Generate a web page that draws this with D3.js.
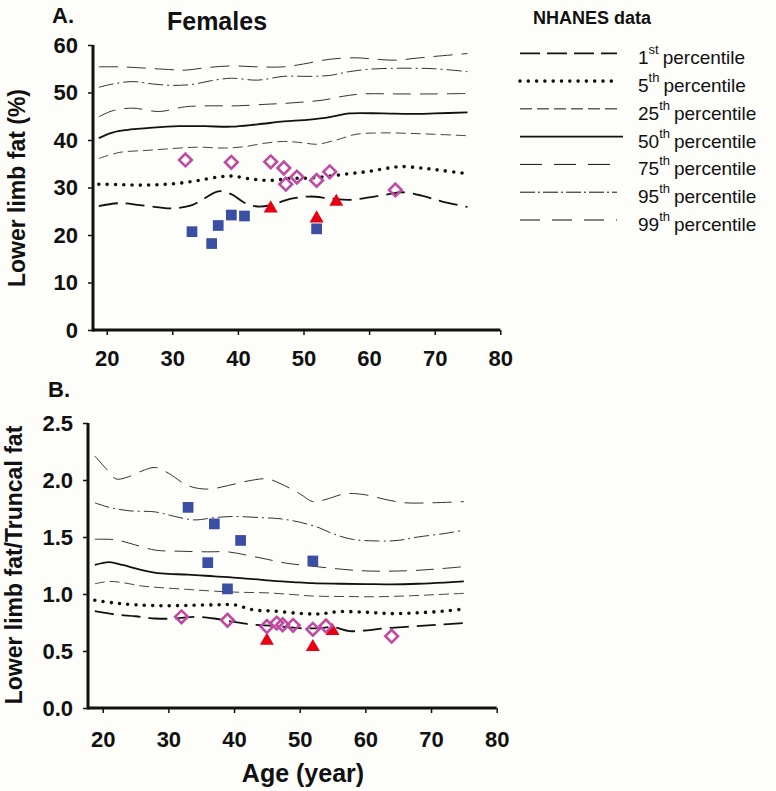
<!DOCTYPE html>
<html><head><meta charset="utf-8">
<script src="https://cdn.jsdelivr.net/npm/d3@7"></script>
<style>
body{margin:0;background:#fdfdf9}
svg{display:block}
text{font-family:"Liberation Sans",Arial,Helvetica,sans-serif;fill:#111}
</style>
</head><body>
<svg id="c" width="776" height="791"></svg>
<script>
// ---------- DATA ----------
const xTicks = [20,30,40,50,60,70,80];
const yTicksA = [0,10,20,30,40,50,60];
const yTicksB = [0.0,0.5,1.0,1.5,2.0,2.5];
const legendNames = ["1","5","25","50","75","95","99"];
const legendSup = ["st","th","th","th","th","th","th"];

// Panel A: lower limb fat (%) percentiles [age, value]
const A_p99 = [[18.8,55.4],[22,55.4],[25,55.2],[30,54.8],[32,54.7],[35,55.2],[39,55.6],[43,55.4],[47,55.4],[50,56.0],[54,57.0],[58,57.3],[61,57.0],[64,56.8],[67,57.2],[70,57.6],[75,58.2]];
const A_p95 = [[18.8,51.1],[21,51.8],[24,52.3],[27,51.8],[30,51.5],[33,51.7],[36,52.5],[39,53.0],[43,52.6],[47,53.4],[51,53.4],[54,53.6],[57,54.4],[60,54.9],[64,55.1],[67,55.1],[70,55.0],[75,54.4]];
const A_p75 = [[18.8,44.9],[21,46.2],[24,46.7],[28,46.0],[32,47.0],[36,47.2],[40,47.2],[44,47.5],[47,47.7],[50,48.0],[53,48.4],[56,49.2],[59,49.7],[64,49.7],[70,49.7],[75,49.8]];
const A_p50 = [[18.8,40.4],[21,41.6],[23,42.1],[27,42.6],[31,42.9],[35,42.9],[39,42.8],[43,43.3],[47,43.9],[50,44.2],[53,44.6],[55,45.1],[57,45.6],[62,45.6],[66,45.5],[70,45.6],[75,45.8]];
const A_p25 = [[18.8,36.1],[22,37.4],[26,37.8],[30,38.2],[34,38.5],[38,38.3],[41,38.6],[44,39.3],[47,39.7],[50,39.4],[52,39.1],[55,40.0],[58,41.2],[62,41.5],[66,41.4],[70,41.2],[75,40.9]];
const A_p5  = [[18.8,30.7],[22,30.6],[25,30.5],[28,30.6],[31,30.9],[34,31.5],[37,32.2],[39,32.4],[42,31.8],[45,31.5],[48,31.9],[51,32.0],[54,32.4],[57,32.9],[60,33.4],[63,34.1],[65,34.4],[68,34.1],[71,33.6],[75,32.9]];
const A_p1  = [[18.8,26.1],[22,26.7],[25,26.3],[28,25.8],[30,25.6],[33,26.3],[35,27.8],[37,29.2],[39,28.6],[41,26.8],[43,26.0],[45,26.3],[48,27.6],[51,28.1],[54,27.7],[57,27.4],[60,27.9],[63,28.6],[65,29.0],[68,28.3],[71,27.1],[75,25.9]];
const A_squares   = [[33,20.7],[36,18.2],[37,22.0],[39,24.2],[41,24.0],[52,21.3]];
const A_triangles = [[45,25.6],[52,23.5],[55,27.0]];
const A_diamonds  = [[32,35.8],[39,35.3],[45,35.4],[47,34.1],[47.3,30.7],[49,32.2],[52,31.5],[54,33.3],[64,29.5]];

// Panel B: lower limb fat / truncal fat percentiles
const B_p99 = [[18.8,2.21],[20.5,2.10],[22,2.01],[23.5,2.02],[26,2.08],[28,2.11],[30,2.06],[33,1.95],[36,1.92],[39,1.95],[42,1.99],[45,2.01],[47,1.97],[50,1.88],[52,1.81],[54,1.83],[57,1.88],[60,1.87],[63,1.83],[66,1.80],[70,1.80],[75,1.81]];
const B_p95 = [[18.8,1.80],[21,1.76],[24,1.73],[28,1.72],[31,1.68],[34,1.65],[37,1.67],[40,1.68],[44,1.67],[47,1.66],[50,1.63],[53,1.58],[55,1.53],[58,1.48],[62,1.465],[65,1.47],[68,1.50],[72,1.53],[75,1.56]];
const B_p75 = [[18.8,1.48],[22,1.475],[25,1.43],[28,1.385],[32,1.375],[36,1.37],[39,1.37],[42,1.34],[45,1.305],[48,1.27],[51,1.25],[55,1.225],[59,1.205],[63,1.20],[67,1.205],[71,1.22],[75,1.24]];
const B_p50 = [[18.8,1.255],[21,1.28],[23,1.255],[26,1.21],[29,1.18],[33,1.17],[37,1.155],[41,1.14],[45,1.12],[49,1.105],[52,1.095],[56,1.09],[60,1.087],[64,1.085],[68,1.09],[72,1.10],[75,1.11]];
const B_p25 = [[18.8,1.09],[21,1.11],[23,1.10],[26,1.07],[29,1.055],[33,1.04],[37,1.025],[41,1.015],[45,1.01],[49,0.995],[52,0.982],[57,0.978],[62,0.976],[67,0.985],[71,0.995],[75,1.006]];
const B_p5  = [[18.8,0.945],[22,0.92],[25,0.905],[29,0.897],[33,0.90],[37,0.905],[40,0.905],[43,0.86],[46,0.85],[50,0.83],[53,0.825],[56,0.845],[60,0.84],[64,0.828],[68,0.835],[72,0.85],[75,0.868]];
const B_p1  = [[18.8,0.85],[22,0.82],[25,0.805],[28,0.785],[31,0.785],[34,0.80],[37,0.785],[40,0.755],[43,0.73],[46,0.72],[50,0.70],[53,0.70],[55,0.71],[57.6,0.675],[60,0.68],[63,0.70],[67,0.715],[71,0.73],[75,0.745]];
const B_squares   = [[33,1.76],[36,1.275],[37,1.615],[39,1.045],[41,1.47],[52,1.29]];
const B_triangles = [[45,0.59],[52,0.535],[55,0.675]];
const B_diamonds  = [[32,0.80],[39,0.77],[45,0.715],[46.5,0.745],[47.4,0.73],[49,0.725],[52,0.69],[54,0.72],[64,0.63]];

// ---------- STYLES ----------
const lineStyles = [
  {w:1.8, dash:"19,8",  color:"#111", cap:"butt"},   // 1st
  {w:3.6, dash:"0,8.3", color:"#111", cap:"round"},  // 5th
  {w:1.0, dash:"10,5",  color:"#444", cap:"butt"},   // 25th
  {w:1.8, dash:null,    color:"#111", cap:"butt"},   // 50th
  {w:1.0, dash:"18,9",  color:"#333", cap:"butt"},   // 75th
  {w:1.0, dash:"15,4,2,4", color:"#333", cap:"butt"},// 95th
  {w:1.0, dash:"19,9",  color:"#333", cap:"butt"}    // 99th
];
const legendStyles = [
  {w:1.8, dash:"20,7"}, {w:3.6, dash:"0,8.3"}, {w:1.0, dash:"12,5"}, {w:1.8, dash:null},
  {w:1.0, dash:"22,12"}, {w:1.0, dash:"15,3,2,3"}, {w:1.0, dash:"20,12"}
];
const BLUE = "#3a4fa3", RED = "#e60012", MAG = "#c04aa2";

const svg = d3.select("#c");
svg.append("rect").attr("width",776).attr("height",791).attr("fill","#fdfdf9");

function panel(cfg){
  const x = d3.scaleLinear().domain([20,80]).range(cfg.xr);
  const y = d3.scaleLinear().domain(cfg.yd).range(cfg.yr);
  const g = svg.append("g");
  const x0 = cfg.axisX;
  const yAx = d3.axisLeft(y).tickValues(cfg.yticks).tickSize(5).tickPadding(10).tickFormat(cfg.yfmt);
  const ga = g.append("g").attr("transform",`translate(${x0},0)`).call(yAx);
  ga.select(".domain").remove();
  ga.selectAll(".tick line").attr("stroke","#111").attr("stroke-width",1.5);
  ga.selectAll(".tick text").attr("font-size",22).attr("font-weight","bold").attr("fill","#111");
  const xAx = d3.axisBottom(x).tickValues(xTicks).tickSize(5).tickPadding(cfg.xpad).tickFormat(d3.format("d"));
  const gx = g.append("g").attr("transform",`translate(0,${y(cfg.yd[0])})`).call(xAx);
  gx.select(".domain").remove();
  gx.selectAll(".tick line").attr("stroke","#111").attr("stroke-width",1.5);
  gx.selectAll(".tick text").attr("font-size",22).attr("font-weight","bold").attr("fill","#111");
  g.append("line").attr("x1",x0).attr("x2",x0).attr("y1",y(cfg.yd[0])+1.5).attr("y2",y(cfg.yd[1]))
    .attr("stroke","#111").attr("stroke-width",3);
  g.append("line").attr("x1",x0).attr("x2",x(80)).attr("y1",y(cfg.yd[0])).attr("y2",y(cfg.yd[0]))
    .attr("stroke","#111").attr("stroke-width",3);
  const line = d3.line().x(d=>x(d[0])).y(d=>y(d[1])).curve(d3.curveCatmullRom.alpha(0.5));
  cfg.series.forEach((s,i)=>{
    const st = lineStyles[i];
    g.append("path").attr("d",line(s)).attr("fill","none").attr("stroke",st.color)
      .attr("stroke-width",st.w).attr("stroke-linecap",st.cap)
      .attr("stroke-dasharray",st.dash);
  });
  g.selectAll(".sq").data(cfg.squares).join("path")
    .attr("d",d3.symbol(d3.symbolSquare,115)())
    .attr("transform",d=>`translate(${x(d[0])},${y(d[1])})`).attr("fill",BLUE);
  g.selectAll(".tr").data(cfg.triangles).join("path")
    .attr("d",d3.symbol(d3.symbolTriangle,85)())
    .attr("transform",d=>`translate(${x(d[0])},${y(d[1])})`).attr("fill",RED);
  g.selectAll(".di").data(cfg.diamonds).join("path")
    .attr("d",d3.symbol(d3.symbolSquare,80)())
    .attr("transform",d=>`translate(${x(d[0])},${y(d[1])}) rotate(45)`)
    .attr("fill","none").attr("stroke",MAG).attr("stroke-width",2.6);
  svg.append("text").attr("x",cfg.letter[0]).attr("y",cfg.letter[1]).attr("font-size",22)
    .attr("font-weight","bold").text(cfg.letterText);
  svg.append("text").attr("transform",`translate(${cfg.ytitle[0]},${cfg.ytitle[1]}) rotate(-90)`)
    .attr("text-anchor","middle").attr("font-size",23).attr("font-weight","bold").text(cfg.ytitleText);
  return {x,y};
}

panel({
  xr:[106.7,500.3], yd:[0,60], yr:[330,45], axisX:93, yticks:yTicksA, yfmt:d3.format("d"), xpad:15,
  series:[A_p1,A_p5,A_p25,A_p50,A_p75,A_p95,A_p99],
  squares:A_squares, triangles:A_triangles, diamonds:A_diamonds,
  letter:[52,23], letterText:"A.", ytitle:[25,188], ytitleText:"Lower limb fat (%)"
});
panel({
  xr:[102.7,496.7], yd:[0,2.5], yr:[708,423], axisX:88, yticks:yTicksB, yfmt:d3.format(".1f"), xpad:18,
  series:[B_p1,B_p5,B_p25,B_p50,B_p75,B_p95,B_p99],
  squares:B_squares, triangles:B_triangles, diamonds:B_diamonds,
  letter:[48,397], letterText:"B.", ytitle:[22,565], ytitleText:"Lower limb fat/Truncal fat"
});

svg.append("text").attr("x",217).attr("y",30).attr("text-anchor","middle")
  .attr("font-size",25).attr("font-weight","bold").text("Females");
svg.append("text").attr("x",303).attr("y",782).attr("text-anchor","middle")
  .attr("font-size",25).attr("font-weight","bold").text("Age (year)");

// legend
svg.append("text").attr("x",533).attr("y",24).attr("font-size",18).attr("font-weight","bold").text("NHANES data");
const ly = d3.scaleLinear().domain([0,6]).range([53.3,220]);
legendNames.forEach((n,i)=>{
  const yy = ly(i), st = legendStyles[i];
  svg.append("line").attr("x1",520).attr("x2",i===3?623:617).attr("y1",yy).attr("y2",yy)
    .attr("stroke","#111").attr("stroke-width",st.w)
    .attr("stroke-linecap",i===1?"round":"butt").attr("stroke-dasharray",st.dash);
  const t = svg.append("text").attr("x",638).attr("y",yy+11).attr("font-size",19);
  t.append("tspan").text(n);
  t.append("tspan").attr("dy",-10).attr("font-size",13).text(legendSup[i]);
  const w = t.node().getComputedTextLength();
  svg.append("text").attr("x",638+w+4).attr("y",yy+11).attr("font-size",19).text("percentile");
});
</script>
</body></html>
